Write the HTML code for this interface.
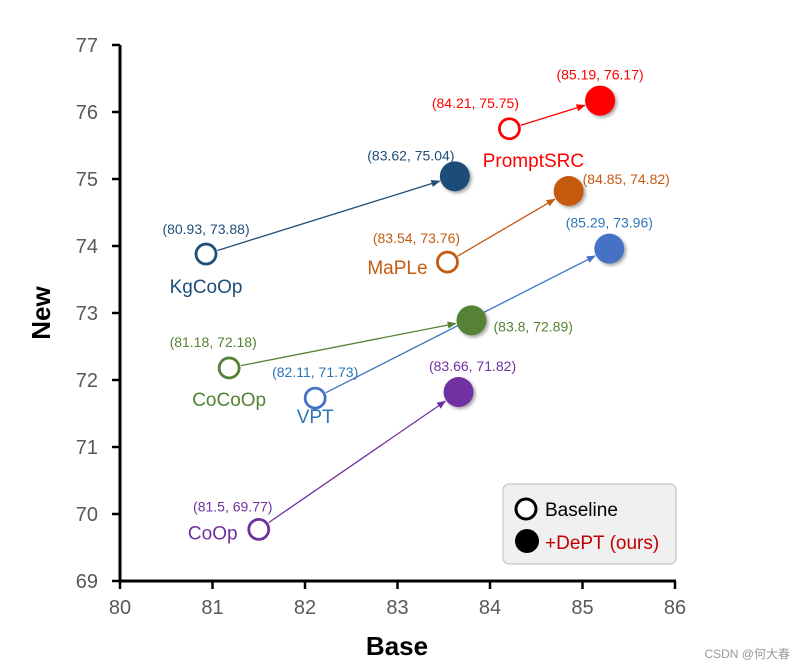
<!DOCTYPE html>
<html><head><meta charset="utf-8"><style>
body{margin:0;background:#fff;}
svg{display:block;font-family:"Liberation Sans",sans-serif;}
</style></head><body>
<svg id="chart" width="801" height="668">
<defs>
<filter id="sh" x="-50%" y="-50%" width="200%" height="200%"><feDropShadow dx="2" dy="2" stdDeviation="1.5" flood-color="#000" flood-opacity="0.35"/></filter>
</defs>
</svg>
<script>
const methods=["CoOp","VPT","CoCoOp","KgCoOp","MaPLe","PromptSRC"];
const baseX=[81.5,82.11,81.18,80.93,83.54,84.21];
const baseY=[69.77,71.73,72.18,73.88,73.76,75.75];
const deptX=[83.66,85.29,83.8,83.62,84.85,85.19];
const deptY=[71.82,73.96,72.89,75.04,74.82,76.17];
const xTicks=[80,81,82,83,84,85,86];
const yTicks=[69,70,71,72,73,74,75,76,77];
const colors=["#7030a0","#4472c4","#548235","#1f4e79","#c55a11","#ff0000"];
const textColors=["#7030a0","#2e75b6","#548235","#1f4e79","#c55a11","#ff0000"];
// label offsets relative to marker: [baseLabel dx,dy, name dx,dy, deptLabel dx,dy, deptAnchor]
const offs=[[-26,-18,-46,4,14,-21,"middle"],[0,-21,0,19,0,-21,"middle"],[-16,-21,0,32,22,11,"start"],[0,-20,0,33,-44,-16,"middle"],[-31,-19,-50,6,14,-7,"start"],[-34,-21,24,32,0,-21,"middle"]];
const X=v=>120+(v-80)*92.5, Y=v=>45+(77-v)*67;
const svg=document.getElementById('chart'),NS="http://www.w3.org/2000/svg";
function mk(t,a,p){const e=document.createElementNS(NS,t);for(const k in a)e.setAttribute(k,a[k]);(p||svg).appendChild(e);return e;}
const defs=svg.querySelector('defs');
colors.forEach((c,i)=>{const m=mk('marker',{id:'ar'+i,viewBox:'0 0 10 10',refX:9,refY:5,markerWidth:7,markerHeight:7,orient:'auto'},defs);mk('path',{d:'M0,1L10,5L0,9z',fill:c},m);});
const ax=mk('line',{x1:120,y1:45,x2:120,y2:582.5,stroke:'#000','stroke-width':3});

const axx=mk('line',{x1:118.5,y1:581,x2:676,y2:581,stroke:'#000','stroke-width':3});

xTicks.forEach(v=>{mk('line',{x1:X(v),y1:581,x2:X(v),y2:589,stroke:'#000','stroke-width':2.5});
 const t=mk('text',{x:X(v),y:614,'text-anchor':'middle','font-size':20,fill:'#595959'});t.textContent=v;
 });
yTicks.forEach(v=>{mk('line',{x1:112,y1:Y(v),x2:120,y2:Y(v),stroke:'#000','stroke-width':2.5});
 const t=mk('text',{x:98,y:Y(v)+7,'text-anchor':'end','font-size':20,fill:'#595959'});t.textContent=v;
 });
let t=mk('text',{x:397,y:655,'text-anchor':'middle','font-size':26,'font-weight':'bold'});t.textContent='Base';

t=mk('text',{x:50,y:313,'text-anchor':'middle','font-size':26,'font-weight':'bold',transform:'rotate(-90 50 313)'});t.textContent='New';

methods.forEach((m,i)=>{
 const bx=X(baseX[i]),by=Y(baseY[i]),dx=X(deptX[i]),dy=Y(deptY[i]),c=colors[i],tc=textColors[i],o=offs[i];
 const L=Math.hypot(dx-bx,dy-by),ux=(dx-bx)/L,uy=(dy-by)/L;
 const ar=mk('line',{x1:bx+ux*12,y1:by+uy*12,x2:dx-ux*16,y2:dy-uy*16,stroke:c,'stroke-width':1.3,'marker-end':'url(#ar'+i+')'});
 
 const b=mk('circle',{cx:bx,cy:by,r:10,fill:'#fff',stroke:c,'stroke-width':2.8});
 
 const d=mk('circle',{cx:dx,cy:dy,r:15,fill:c,filter:'url(#sh)'});
 
 let l=mk('text',{x:bx+o[0],y:by+o[1],'text-anchor':'middle','font-size':14,fill:tc});l.textContent='('+baseX[i]+', '+baseY[i]+')';
 
 l=mk('text',{x:bx+o[2],y:by+o[3]+6,'text-anchor':'middle','font-size':19,fill:tc});l.textContent=m;
 
 l=mk('text',{x:dx+o[4],y:dy+o[5],'text-anchor':o[6],'font-size':14,fill:tc});l.textContent='('+deptX[i]+', '+deptY[i]+')';
 
});
const lg=mk('g',{});
mk('rect',{x:503,y:484,width:173,height:80,rx:6,fill:'#f0f0f0',stroke:'#bbb','stroke-width':1},lg);
mk('circle',{cx:526,cy:509,r:10,fill:'#fff',stroke:'#000','stroke-width':3},lg);
mk('circle',{cx:527,cy:541,r:12,fill:'#000'},lg);
t=mk('text',{x:545,y:516,'font-size':19,fill:'#000'},lg);t.textContent='Baseline';

t=mk('text',{x:545,y:549,'font-size':19,fill:'#c00000'},lg);t.textContent='+DePT (ours)';

t=mk('text',{x:790,y:658,'text-anchor':'end','font-size':12,fill:'#999'});
t.setAttribute('font-family','"Liberation Sans","Noto Sans CJK SC",sans-serif');t.textContent='CSDN @何大春';

</script>
</body></html>
